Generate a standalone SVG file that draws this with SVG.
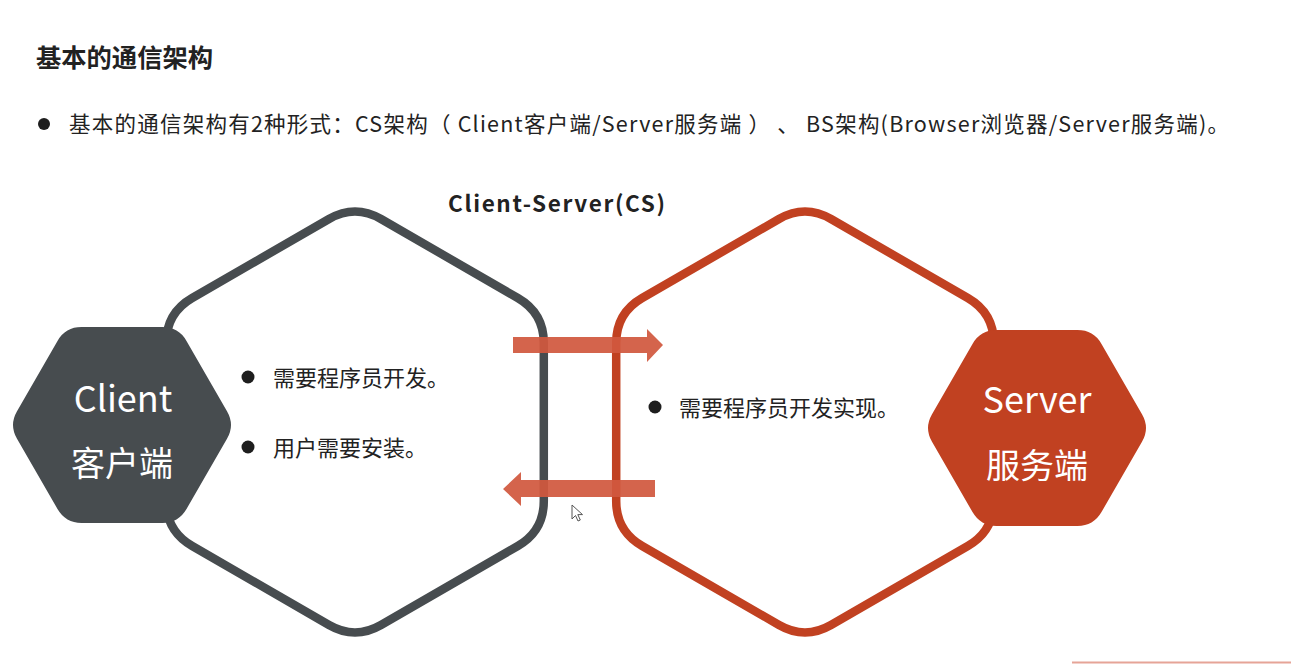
<svg xmlns="http://www.w3.org/2000/svg" width="1291" height="664" viewBox="0 0 1291 664">
<style>
  .txt { font-family: "Noto Sans CJK SC", "Noto Sans", sans-serif; fill: #222222; }
  .bold { font-weight: bold; }
  .white { fill: #ffffff; font-family: "Noto Sans CJK SC", "Noto Sans", sans-serif; }
  .dot { fill: #1e1e1e; }
  .bigGray { fill: none; stroke: #474c4f; stroke-width: 8.5; }
  .bigRed { fill: none; stroke: #c14121; stroke-width: 8.5; }
  .arrow { fill: #d1583e; opacity: 0.93; }
</style>
<defs>
  <path id="bigHex" d="M 26 -203 L 162.8 -124 Q 188.8 -109 188.8 -79 L 188.8 79 Q 188.8 109 162.8 124 L 26 203 Q 0 218 -26 203 L -162.8 124 Q -188.8 109 -188.8 79 L -188.8 -79 Q -188.8 -109 -162.8 -124 L -26 -203 Q 0 -218 26 -203 Z"/>
  <path id="smallHex" d="M 105 13.86 L 64.5 84.04 Q 56.5 97.9 40.5 97.9 L -40.5 97.9 Q -56.5 97.9 -64.5 84.04 L -105 13.86 Q -113 0 -105 -13.86 L -64.5 -84.04 Q -56.5 -97.9 -40.5 -97.9 L 40.5 -97.9 Q 56.5 -97.9 64.5 -84.04 L 105 -13.86 Q 113 0 105 13.86 Z"/>
</defs>
<rect width="1291" height="664" fill="#ffffff"/>

<g id="heading">
  <text class="txt bold" x="36" y="67" font-size="25" textLength="177" lengthAdjust="spacingAndGlyphs">基本的通信架构</text>
  <circle class="dot" cx="44" cy="124" r="6"/>
  <text class="txt" x="69" y="132" font-size="21.5" textLength="1160" lengthAdjust="spacing">基本的通信架构有2种形式：CS架构（ Client客户端/Server服务端 ） 、 BS架构(Browser浏览器/Server服务端)。</text>
  <text class="txt bold" x="448" y="212" font-size="22.5" textLength="217" lengthAdjust="spacing">Client-Server(CS)</text>
</g>

<g id="client-area">
  <use href="#bigHex" class="bigGray" transform="translate(355,422)"/>
  <circle class="dot" cx="248" cy="377" r="6.5"/>
  <text class="txt" x="273" y="386" font-size="22">需要程序员开发。</text>
  <circle class="dot" cx="248" cy="447" r="6.5"/>
  <text class="txt" x="273" y="456" font-size="22">用户需要安装。</text>
</g>

<g id="client">
  <use href="#smallHex" fill="#474c4f" transform="translate(122,425)"/>
  <text class="white" x="123" y="412" font-size="36" text-anchor="middle">Client</text>
  <text class="white" x="122" y="476" font-size="34" text-anchor="middle">客户端</text>
</g>

<g id="server-area">
  <use href="#bigHex" class="bigRed" transform="translate(805,422)"/>
  <circle class="dot" cx="655" cy="407" r="6.5"/>
  <text class="txt" x="679" y="416" font-size="22">需要程序员开发实现。</text>
</g>

<g id="server">
  <use href="#smallHex" fill="#c14121" transform="translate(1037,428)"/>
  <text class="white" x="1037" y="413" font-size="36" text-anchor="middle">Server</text>
  <text class="white" x="1037" y="478" font-size="34" text-anchor="middle">服务端</text>
</g>

<g id="connectors">
  <polygon class="arrow" points="513,337 647,337 647,329 663,345 647,362 647,353 513,353"/>
  <polygon class="arrow" points="655,480 521,480 521,472 503,489 521,506 521,497 655,497"/>
</g>

<g id="decor">
  <path d="M572 505 L572 519 L575.5 515.5 L578 521 L580.3 520 L577.8 514.6 L582.5 514.6 Z" fill="#ffffff" stroke="#555555" stroke-width="1" stroke-linejoin="round"/>
  <line x1="1072" y1="662.5" x2="1291" y2="662.5" stroke="#e6a497" stroke-width="2"/>
</g>
</svg>
